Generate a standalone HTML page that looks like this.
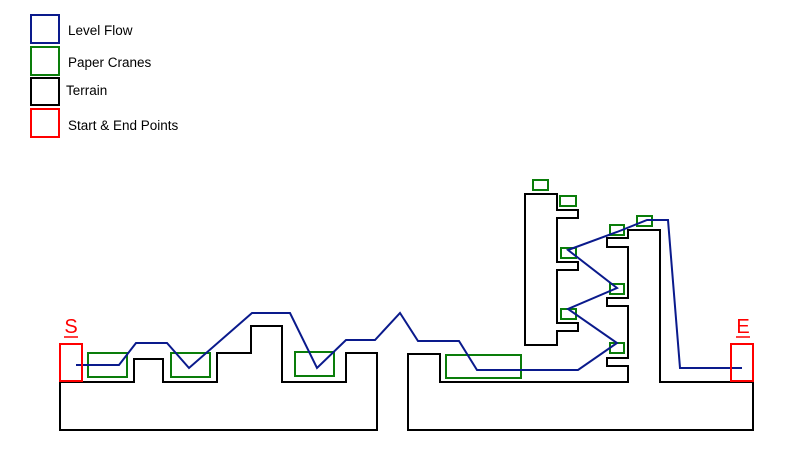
<!DOCTYPE html>
<html><head><style>body{margin:0;background:#fff}svg{display:block}</style></head><body>
<svg width="800" height="453" viewBox="0 0 800 453" xmlns="http://www.w3.org/2000/svg" font-family="Liberation Sans, sans-serif">
<rect x="31" y="15" width="28" height="28" fill="none" stroke="#0a1a8c" stroke-width="2"/>
<rect x="31" y="47" width="28" height="28" fill="none" stroke="#0a7d0a" stroke-width="2"/>
<rect x="31" y="78" width="28" height="27" fill="none" stroke="#000" stroke-width="2"/>
<rect x="31" y="109" width="28" height="28" fill="none" stroke="#f00" stroke-width="2"/>
<text x="68" y="35" font-size="13.5">Level Flow</text>
<text x="68" y="67" font-size="13.5">Paper Cranes</text>
<text x="66" y="95" font-size="13.5">Terrain</text>
<text x="68" y="130" font-size="13.5">Start &amp; End Points</text>
<g fill="none" stroke="#000" stroke-width="2">
<path d="M60,382 L134,382 L134,359 L163,359 L163,382 L217,382 L217,353 L251,353 L251,326 L282,326 L282,382 L346,382 L346,353 L377,353 L377,430 L60,430 Z"/>
<path d="M408,354 L440,354 L440,382 L628,382 L628,366 L607,366 L607,358 L628,358 L628,306 L607,306 L607,298 L628,298 L628,247 L607,247 L607,238 L628,238 L628,230 L660,230 L660,382 L753,382 L753,430 L408,430 Z"/>
<path d="M525,194 L557,194 L557,210 L578,210 L578,218 L557,218 L557,262 L578,262 L578,270 L557,270 L557,323 L578,323 L578,331 L557,331 L557,345 L525,345 Z"/>
</g>
<g fill="none" stroke="#0a7d0a" stroke-width="2">
<rect x="88" y="353" width="39" height="24"/>
<rect x="171" y="353" width="39" height="24"/>
<rect x="295" y="352" width="39" height="24"/>
<rect x="446" y="355" width="75" height="23"/>
<rect x="533" y="180" width="15" height="10"/>
<rect x="560" y="196" width="16" height="10"/>
<rect x="561" y="248" width="15" height="10"/>
<rect x="561" y="309" width="15" height="10"/>
<rect x="610" y="225" width="14" height="10"/>
<rect x="637" y="216" width="15" height="10"/>
<rect x="610" y="284" width="14" height="10"/>
<rect x="610" y="343" width="14" height="10"/>
</g>
<polyline fill="none" stroke="#0a1a8c" stroke-width="2" points="76,365 119,365 136,343 167,343 189,368 252,313 290,313 317,368 346,340 375,340 400,313 418,341 459,341 477,370 578,370 617,343 568,309 617,288 568,250 617,232 647,220 668,220 680,368 742,368"/>
<g fill="none" stroke="#f00" stroke-width="2">
<rect x="60" y="344" width="22" height="37"/>
<rect x="731" y="344" width="22" height="37"/>
</g>
<text x="71" y="333" font-size="20" fill="#f00" text-anchor="middle">S</text>
<text x="743" y="333" font-size="20" fill="#f00" text-anchor="middle">E</text>
<line x1="64" y1="337" x2="78" y2="337" stroke="#f00" stroke-width="1.5"/>
<line x1="736" y1="337" x2="750" y2="337" stroke="#f00" stroke-width="1.5"/>
</svg>
</body></html>
